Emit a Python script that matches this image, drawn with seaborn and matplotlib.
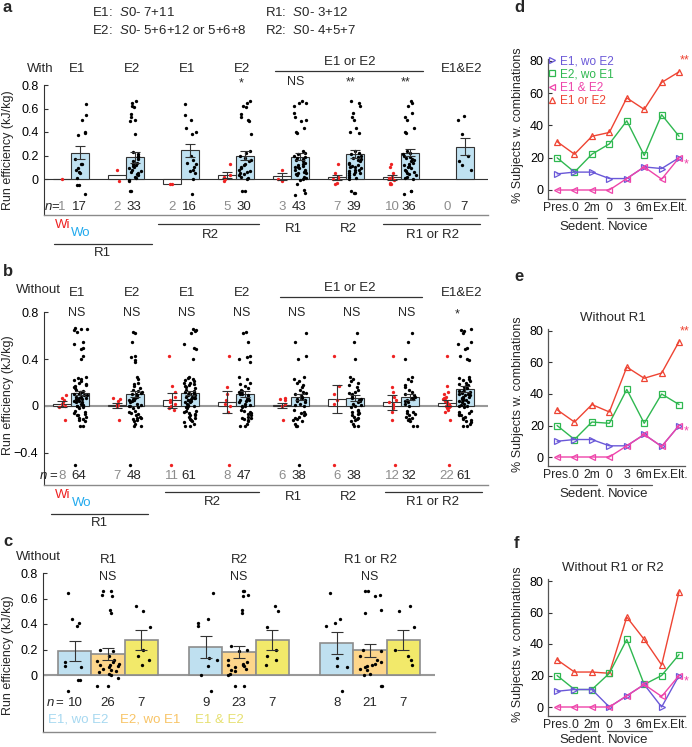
import numpy as np
import pandas as pd
import matplotlib
matplotlib.use("Agg")
import matplotlib.pyplot as plt
import seaborn as sns
from matplotlib.lines import Line2D

# ------------------------------------------------------------------ data
pair_top = ["E1", "E2", "E1", "E2", "", "", "", "E1&E2"]

# panel a ("With")
a_sig = ["", "", "", "*", "NS", "**", "**", ""]
a_wi_n = [1, 2, 2, 5, 3, 7, 10, 0]
a_wo_n = [17, 33, 16, 30, 43, 39, 36, 7]
a_wi_mean = [0.0, 0.035, -0.045, 0.035, 0.025, 0.015, 0.015, np.nan]
a_wi_sem = [0, 0, 0, 0.025, 0.03, 0.02, 0.02, 0]
a_wo_mean = [0.225, 0.185, 0.245, 0.20, 0.19, 0.21, 0.225, 0.275]
a_wo_sem = [0.055, 0.045, 0.055, 0.04, 0.03, 0.035, 0.03, 0.073]
a_wi_dots = [
    [0.0],
    [0.08, -0.015],
    [-0.045, -0.045],
    [0.13, 0.03, 0.02, 0.0, -0.015],
    [0.08, 0.0, -0.015],
    [0.13, 0.05, 0.02, 0.01, 0.0, -0.03, -0.04],
    [0.13, 0.1, 0.05, 0.02, 0.01, 0.0, -0.01, -0.03, -0.04, -0.045],
    [],
]
a_wo_dots = [
    [0.64, 0.545, 0.50, 0.40, 0.39, 0.375, 0.167, 0.13, 0.128, 0.09, 0.077, 0.062,
     0.048, 0.006, -0.05, -0.05, -0.128],
    [0.66, 0.645, 0.62, 0.61, 0.55, 0.53, 0.50, 0.49, 0.385, 0.23, 0.21, 0.2, 0.19,
     0.17, 0.15, 0.14, 0.13, 0.12, 0.11, 0.1, 0.09, 0.08, 0.07, 0.06, 0.05, 0.04,
     0.03, 0.02, 0.01, -0.01, -0.02, -0.1, -0.1],
    [0.64, 0.545, 0.50, 0.43, 0.40, 0.38, 0.2, 0.16, 0.14, 0.13, 0.1, 0.08, 0.07,
     0.05, 0.0, -0.13],
    [0.66, 0.645, 0.62, 0.61, 0.55, 0.53, 0.50, 0.49, 0.385, 0.24, 0.22, 0.2, 0.18,
     0.16, 0.15, 0.13, 0.12, 0.1, 0.09, 0.08, 0.07, 0.06, 0.05, 0.04, 0.03, 0.02,
     0.01, 0.0, -0.1, -0.1],
    [0.66, 0.65, 0.645, 0.62, 0.56, 0.53, 0.5, 0.49, 0.43, 0.40, 0.39, 0.24, 0.22,
     0.21, 0.2, 0.19, 0.18, 0.17, 0.16, 0.15, 0.14, 0.13, 0.12, 0.11, 0.1, 0.1,
     0.09, 0.08, 0.08, 0.07, 0.06, 0.05, 0.05, 0.04, 0.03, 0.02, 0.01, 0.0, -0.01,
     -0.04, -0.09, -0.12, -0.135],
    [0.66, 0.645, 0.62, 0.56, 0.53, 0.5, 0.43, 0.40, 0.39, 0.24, 0.22, 0.21, 0.2,
     0.19, 0.18, 0.17, 0.16, 0.15, 0.14, 0.13, 0.12, 0.11, 0.1, 0.1, 0.09, 0.08,
     0.08, 0.07, 0.06, 0.05, 0.05, 0.04, 0.03, 0.02, 0.01, 0.0, -0.1, -0.12, -0.12],
    [0.66, 0.645, 0.62, 0.56, 0.53, 0.5, 0.43, 0.40, 0.39, 0.24, 0.22, 0.21, 0.2,
     0.19, 0.18, 0.17, 0.16, 0.15, 0.14, 0.13, 0.12, 0.11, 0.1, 0.09, 0.08, 0.07,
     0.06, 0.05, 0.04, 0.03, 0.02, 0.01, 0.0, -0.1, -0.1, -0.13],
    [0.54, 0.5, 0.38, 0.2, 0.15, 0.12, 0.08],
]

# panel b ("Without")
b_sig = ["NS", "NS", "NS", "NS", "NS", "NS", "NS", "*"]
b_wi_n = [8, 7, 11, 8, 6, 6, 12, 22]
b_wo_n = [64, 48, 61, 47, 38, 38, 32, 61]
b_wi_mean = [0.015, 0.005, 0.05, 0.035, 0.005, 0.06, 0.03, 0.025]
b_wi_sem = [0.025, 0.02, 0.065, 0.095, 0.02, 0.12, 0.06, 0.025]
b_wo_mean = [0.11, 0.10, 0.11, 0.10, 0.075, 0.065, 0.08, 0.145]
b_wo_sem = [0.02, 0.025, 0.02, 0.025, 0.025, 0.025, 0.025, 0.025]
b_wi_dots = [
    [0.09, 0.07, 0.05, 0.03, 0.02, 0.0, -0.01, -0.12],
    [0.07, 0.06, 0.04, 0.02, 0.01, 0.0, -0.12],
    [0.43, 0.17, 0.12, 0.08, 0.05, 0.03, 0.02, 0.0, -0.02, -0.03, -0.5],
    [0.43, 0.16, 0.1, 0.05, 0.02, 0.0, -0.05, -0.5],
    [0.07, 0.06, 0.05, 0.02, 0.0, -0.12],
    [0.43, 0.17, 0.1, 0.05, 0.02, -0.5],
    [0.43, 0.16, 0.12, 0.08, 0.05, 0.03, 0.02, 0.0, -0.02, -0.05, -0.12, -0.5],
    [0.43, 0.17, 0.12, 0.1, 0.08, 0.07, 0.06, 0.06, 0.05, 0.04, 0.03, 0.02, 0.02,
     0.01, 0.0, 0.0, -0.01, -0.02, -0.03, -0.05, -0.12, -0.5],
]
b_wo_dots = [
    [0.67, 0.66, 0.655, 0.65, 0.63, 0.55, 0.53, 0.5, 0.49, 0.43, 0.40, 0.25, 0.24,
     0.23, 0.22, 0.21, 0.2, 0.19, 0.18, 0.17, 0.16, 0.15, 0.14, 0.13, 0.12, 0.12,
     0.11, 0.1, 0.1, 0.09, 0.09, 0.08, 0.08, 0.07, 0.07, 0.06, 0.06, 0.05, 0.05,
     0.04, 0.04, 0.03, 0.03, 0.02, 0.02, 0.01, 0.0, 0.0, -0.01, -0.02, -0.04,
     -0.05, -0.06, -0.07, -0.08, -0.08, -0.09, -0.1, -0.11, -0.12, -0.13, -0.17,
     -0.17, -0.5],
    [0.63, 0.62, 0.55, 0.43, 0.42, 0.39, 0.38, 0.25, 0.23, 0.2, 0.19, 0.17, 0.15,
     0.14, 0.13, 0.12, 0.11, 0.1, 0.1, 0.09, 0.08, 0.07, 0.06, 0.05, 0.05, 0.04,
     0.03, 0.02, 0.01, 0.0, 0.0, -0.01, -0.02, -0.04, -0.05, -0.06, -0.07, -0.08,
     -0.09, -0.1, -0.11, -0.12, -0.13, -0.15, -0.17, -0.17, -0.1, -0.5],
    [0.66, 0.65, 0.64, 0.62, 0.53, 0.5, 0.49, 0.40, 0.25, 0.24, 0.23, 0.22, 0.21,
     0.2, 0.2, 0.19, 0.18, 0.17, 0.16, 0.15, 0.14, 0.13, 0.12, 0.12, 0.11, 0.1, 0.1,
     0.09, 0.09, 0.08, 0.08, 0.07, 0.07, 0.06, 0.05, 0.05, 0.04, 0.03, 0.03, 0.02,
     0.01, 0.0, 0.0, -0.01, -0.02, -0.04, -0.05, -0.06, -0.07, -0.08, -0.08, -0.09,
     -0.1, -0.11, -0.12, -0.13, -0.14, -0.15, -0.17, -0.17, -0.04],
    [0.63, 0.62, 0.55, 0.43, 0.42, 0.40, 0.38, 0.25, 0.23, 0.2, 0.19, 0.17, 0.15,
     0.14, 0.13, 0.12, 0.11, 0.1, 0.1, 0.09, 0.08, 0.07, 0.06, 0.05, 0.05, 0.04,
     0.03, 0.02, 0.01, 0.0, 0.0, -0.01, -0.04, -0.05, -0.06, -0.07, -0.08, -0.09,
     -0.1, -0.11, -0.12, -0.13, -0.15, -0.17, -0.17, -0.1, -0.03],
    [0.62, 0.55, 0.43, 0.40, 0.25, 0.23, 0.21, 0.2, 0.18, 0.16, 0.14, 0.12, 0.11,
     0.1, 0.09, 0.08, 0.07, 0.06, 0.05, 0.04, 0.03, 0.02, 0.01, 0.0, -0.03, -0.05,
     -0.06, -0.07, -0.08, -0.09, -0.1, -0.11, -0.12, -0.13, -0.15, -0.17, -0.17,
     -0.5],
    [0.62, 0.55, 0.40, 0.25, 0.23, 0.21, 0.2, 0.18, 0.16, 0.14, 0.12, 0.11, 0.1,
     0.09, 0.08, 0.07, 0.06, 0.05, 0.04, 0.03, 0.02, 0.01, 0.0, -0.01, -0.03, -0.05,
     -0.06, -0.07, -0.08, -0.09, -0.1, -0.11, -0.12, -0.13, -0.15, -0.17, -0.17,
     -0.04],
    [0.62, 0.55, 0.40, 0.25, 0.23, 0.21, 0.18, 0.16, 0.14, 0.12, 0.1, 0.09, 0.08,
     0.07, 0.06, 0.05, 0.04, 0.03, 0.02, 0.0, -0.05, -0.06, -0.07, -0.08, -0.09,
     -0.1, -0.11, -0.12, -0.13, -0.17, -0.17, -0.04],
    [0.66, 0.65, 0.64, 0.62, 0.55, 0.53, 0.5, 0.49, 0.43, 0.40, 0.39, 0.25, 0.24,
     0.23, 0.22, 0.21, 0.2, 0.19, 0.18, 0.17, 0.16, 0.15, 0.14, 0.13, 0.12, 0.12,
     0.11, 0.1, 0.1, 0.09, 0.09, 0.08, 0.08, 0.07, 0.07, 0.06, 0.05, 0.05, 0.04,
     0.03, 0.03, 0.02, 0.01, 0.0, 0.0, -0.01, -0.04, -0.05, -0.06, -0.07, -0.08,
     -0.08, -0.09, -0.1, -0.11, -0.12, -0.13, -0.14, -0.15, -0.17, -0.17],
]

# panel c
c_groups = ["R1", "R2", "R1 or R2"]
c_sig = ["NS", "NS", "NS"]
c_series = ["E1, wo E2", "E2, wo E1", "E1 & E2"]
c_n = [[10, 26, 7], [9, 23, 7], [8, 21, 7]]
c_mean = [[0.19, 0.163, 0.275], [0.22, 0.178, 0.275], [0.25, 0.195, 0.275]]
c_sem = [[0.08, 0.045, 0.075], [0.083, 0.048, 0.075], [0.088, 0.052, 0.075]]
c_dots = [
    [[0.64, 0.436, 0.41, 0.385, 0.1, 0.068, 0.062, -0.036, -0.036, -0.127],
     [0.66, 0.655, 0.625, 0.62, 0.51, 0.49, 0.2, 0.19, 0.15, 0.12, 0.11, 0.1, 0.09,
      0.08, 0.075, 0.07, 0.06, 0.05, 0.04, 0.03, 0.02, 0.01, 0.0, -0.02, -0.09, -0.09],
     [0.54, 0.5, 0.38, 0.2, 0.15, 0.12, 0.08]],
    [[0.64, 0.436, 0.41, 0.385, 0.135, 0.12, 0.07, 0.0, -0.127],
     [0.66, 0.655, 0.625, 0.62, 0.51, 0.49, 0.23, 0.2, 0.19, 0.12, 0.1, 0.09, 0.08,
      0.075, 0.07, 0.06, 0.05, 0.04, 0.03, 0.01, 0.0, -0.09, -0.09],
     [0.54, 0.5, 0.38, 0.2, 0.15, 0.12, 0.08]],
    [[0.64, 0.436, 0.41, 0.385, 0.135, 0.07, 0.06, -0.127],
     [0.66, 0.655, 0.625, 0.62, 0.51, 0.49, 0.2, 0.19, 0.15, 0.12, 0.1, 0.09, 0.08,
      0.07, 0.06, 0.05, 0.04, 0.01, 0.0, -0.09, -0.09],
     [0.54, 0.5, 0.38, 0.2, 0.15, 0.12, 0.08]],
]

# panels d, e, f
time_labels = ["Pres.", "0", "2m", "0", "3", "6m", "Ex.", "Elt."]
line_names = ["E1, wo E2", "E2, wo E1", "E1 & E2", "E1 or E2"]
d_vals = [[10, 11.1, 11.1, 7.1, 7.1, 14.3, 13.3, 20],
          [20, 11.1, 22.2, 28.6, 42.9, 21.4, 46.7, 33.3],
          [0, 0, 0, 0, 7.1, 14.3, 6.7, 20],
          [30, 22.2, 33.3, 35.7, 57.1, 50, 66.7, 73.3]]
e_vals = [[10, 11.1, 11.1, 7.1, 7.1, 14.3, 6.7, 20],
          [20, 11.1, 22.2, 21.4, 42.9, 21.4, 40, 33.3],
          [0, 0, 0, 0, 7.1, 14.3, 6.7, 20],
          [30, 22.2, 33.3, 28.6, 57.1, 50, 53.3, 73.3]]
f_vals = [[10, 11.1, 11.1, 0, 7.1, 14.3, 0, 20],
          [20, 11.1, 11.1, 21.4, 42.9, 14.3, 20, 33.3],
          [0, 0, 0, 0, 7.1, 14.3, 6.7, 20],
          [30, 22.2, 22.2, 21.4, 57.1, 42.9, 26.7, 73.3]]

# ------------------------------------------------------------------ style
sns.set_theme(style="white")
plt.rcParams["font.family"] = ["Liberation Sans", "DejaVu Sans"]
plt.rcParams["mathtext.fontset"] = "custom"
plt.rcParams["mathtext.rm"] = "Liberation Sans"
plt.rcParams["mathtext.it"] = "Liberation Sans:italic"

W, H = 692, 747
fig = plt.figure(figsize=(W / 100, H / 100), dpi=100)
fig.patch.set_facecolor("white")


def fx(x):
    return x / W


def fy(y):
    return 1 - y / H


def T(x, y, s, ha="center", va="center", size=9.5, **kw):
    fig.text(fx(x), fy(y), s, ha=ha, va=va, fontsize=size, **kw)


def L(x0, x1, y, color="#333333", lw=0.9):
    fig.add_artist(Line2D([fx(x0), fx(x1)], [fy(y), fy(y)], transform=fig.transFigure,
                          color=color, lw=lw))


def AX(left, top, right, bottom):
    return fig.add_axes([fx(left), fy(bottom), (right - left) / W, (bottom - top) / H])


DARK = "#333333"
RED = "#ee2222"
WOBLUE = "#22aaee"
BARBLUE = "#bfe1f1"
X0, DX = 71, 55          # pixel position of pair boundary 0 and pair spacing
OFF, BW = 0.164, 0.327   # half-offset and width of paired bars (data units)


def style_y(ax, ticks, labels):
    ax.set_yticks(ticks)
    ax.set_yticklabels(labels)
    ax.tick_params(axis="y", direction="in", length=3, width=0.8, colors=DARK,
                   labelcolor="black", labelsize=9, pad=4, left=True)
    ax.set_xticks([])
    ax.set_xlabel("")
    ax.set_ylabel("")
    for s in ["top", "right"]:
        ax.spines[s].set_visible(False)
    ax.spines["left"].set_color(DARK)
    ax.spines["left"].set_linewidth(0.8)
    ax.spines["bottom"].set_color("#8a8a8a")
    ax.spines["bottom"].set_linewidth(1.0)
    ax.set_facecolor("none")


def pair_panel(ax, wi_mean, wi_sem, wi_dots, wo_mean, wo_sem, wo_dots, zcol, zlw):
    ax.axhline(0, color=zcol, lw=zlw, zorder=1)
    wi_idx = [i for i in range(len(wi_dots)) if len(wi_dots[i]) > 0]
    dfw = pd.DataFrame({"pos": [i - OFF for i in wi_idx], "val": [wi_mean[i] for i in wi_idx]})
    sns.barplot(data=dfw, x="pos", y="val", native_scale=True, width=BW, color="white",
                edgecolor=DARK, linewidth=0.8, errorbar=None, saturation=1, ax=ax, zorder=2)
    dfo = pd.DataFrame({"pos": [i + OFF for i in range(len(wo_mean))], "val": wo_mean})
    sns.barplot(data=dfo, x="pos", y="val", native_scale=True, width=BW, color=BARBLUE,
                edgecolor=DARK, linewidth=0.8, errorbar=None, saturation=1, ax=ax, zorder=2)
    rows = [(i - OFF, v) for i in wi_idx for v in wi_dots[i]]
    sns.stripplot(data=pd.DataFrame(rows, columns=["pos", "val"]), x="pos", y="val",
                  native_scale=True, jitter=0.07, color=RED, size=2.4, linewidth=0,
                  ax=ax, zorder=3, orient="x")
    rows = [(i + OFF, v) for i in range(len(wo_dots)) for v in wo_dots[i]]
    sns.stripplot(data=pd.DataFrame(rows, columns=["pos", "val"]), x="pos", y="val",
                  native_scale=True, jitter=0.12, color="black", size=2.4, linewidth=0,
                  ax=ax, zorder=3, orient="x")
    ex = [i - OFF for i in wi_idx if wi_sem[i] > 0]
    ax.errorbar(ex, [wi_mean[i] for i in wi_idx if wi_sem[i] > 0],
                yerr=[wi_sem[i] for i in wi_idx if wi_sem[i] > 0], fmt="none",
                ecolor=DARK, elinewidth=0.8, capsize=3.5, capthick=0.8, zorder=4)
    ax.errorbar([i + OFF for i in range(len(wo_mean))], wo_mean, yerr=wo_sem, fmt="none",
                ecolor=DARK, elinewidth=0.8, capsize=3.5, capthick=0.8, zorder=4)
    ax.set_xlim((44 - X0) / DX, (488 - X0) / DX)


np.random.seed(3)

# ------------------------------------------------------------------ panel a
T(3, 8, "a", ha="left", size=12, fontweight="bold")
T(92, 13, r"E1:  $\mathit{S0}$- 7+11", ha="left")
T(92, 31, r"E2:  $\mathit{S0}$- 5+6+12 or 5+6+8", ha="left")
T(265, 13, r"R1:  $\mathit{S0}$- 3+12", ha="left")
T(265, 31, r"R2:  $\mathit{S0}$- 4+5+7", ha="left")

axa = AX(44, 85, 488, 215)
pair_panel(axa, a_wi_mean, a_wi_sem, a_wi_dots, a_wo_mean, a_wo_sem, a_wo_dots, DARK, 0.8)
axa.set_ylim(-(215 - 179) / 117.5, 0.8)
style_y(axa, [0, 0.2, 0.4, 0.6, 0.8], ["0", "0.2", "0.4", "0.6", "0.8"])

T(40, 69, "With")
for i, lab in enumerate(pair_top):
    if lab:
        T(X0 + DX * i + 6, 69, lab)
T(350, 62, "E1 or E2")
L(275, 423, 71)
for i, s in enumerate(a_sig):
    if s:
        T(X0 + DX * i + 5, 82 if s != "*" else 83, s, size=9)
T(48, 207, r"$\mathit{n}$", size=9.5)
T(55, 207, "=", size=9.5)
for i in range(8):
    T(X0 + DX * i - 9, 207, str(a_wi_n[i]), color="#8c8c8c")
    T(X0 + DX * i + 8, 207, str(a_wo_n[i]))
T(63, 225, "Wi", color=RED)
T(81, 233, "Wo", color=WOBLUE)
L(158, 259, 224)
T(210, 235, "R2")
T(293, 229, "R1")
T(348, 229, "R2")
L(383, 480, 224)
T(432, 235, "R1 or R2")
L(54, 152, 244)
T(102, 253, "R1")
T(8, 150, "Run efficiency (kJ/kg)", rotation=90, size=9)

# ------------------------------------------------------------------ panel b
T(3, 272, "b", ha="left", size=12, fontweight="bold")
axb = AX(44, 406 - 0.8 * 117, 488, 485)
pair_panel(axb, b_wi_mean, b_wi_sem, b_wi_dots, b_wo_mean, b_wo_sem, b_wo_dots, "#999999", 1.5)
axb.set_ylim(-(485 - 406) / 117, 0.8)
style_y(axb, [-0.4, 0, 0.4, 0.8], ["\u22120.4", "0", "0.4", "0.8"])

T(38, 290, "Without")
for i, lab in enumerate(pair_top):
    if lab:
        T(X0 + DX * i + 6, 293, lab)
T(350, 288, "E1 or E2")
L(280, 422, 297)
for i, s in enumerate(b_sig):
    T(X0 + DX * i + (6 if s == "NS" else 1), 313 if s == "NS" else 314, s, size=9)
T(43, 476, r"$\mathit{n}$", size=9.5)
T(53, 476, "=", size=9.5)
for i in range(8):
    T(X0 + DX * i - 9, 476, str(b_wi_n[i]), color="#8c8c8c")
    T(X0 + DX * i + 8, 476, str(b_wo_n[i]))
T(63, 495, "Wi", color=RED)
T(82, 503, "Wo", color=WOBLUE)
L(165, 259, 492)
T(212, 502, "R2")
T(293, 497, "R1")
T(348, 497, "R2")
L(385, 482, 492)
T(433, 502, "R1 or R2")
L(51, 148, 514)
T(99, 523, "R1")
T(8, 395, "Run efficiency (kJ/kg)", rotation=90, size=9)

# ------------------------------------------------------------------ panel c
T(3, 542, "c", ha="left", size=12, fontweight="bold")
CX0, CDX = 108, 131
COFF, CBW = 0.252, 0.252
c_face = ["#bfe0f0", "#fdd68b", "#f2e96a"]
c_text = ["#a6d8f0", "#f8c466", "#e6e070"]
axc = AX(43, 573, 435, 732)
axc.axhline(0, color="#999999", lw=1.5, zorder=1)
for k in range(3):
    dfk = pd.DataFrame({"pos": [g + (k - 1) * COFF for g in range(3)],
                        "val": [c_mean[g][k] for g in range(3)]})
    sns.barplot(data=dfk, x="pos", y="val", native_scale=True, width=CBW, color=c_face[k],
                edgecolor="#8c8c8c", linewidth=1.2, errorbar=None, saturation=1, ax=axc,
                zorder=2)
for k in range(3):
    rows = [(g + (k - 1) * COFF, v) for g in range(3) for v in c_dots[g][k]]
    sns.stripplot(data=pd.DataFrame(rows, columns=["pos", "val"]), x="pos", y="val",
                  native_scale=True, jitter=0.09, color="black", size=2.4, linewidth=0,
                  ax=axc, zorder=3, orient="x")
for k in range(3):
    axc.errorbar([g + (k - 1) * COFF for g in range(3)], [c_mean[g][k] for g in range(3)],
                 yerr=[c_sem[g][k] for g in range(3)], fmt="none", ecolor=DARK,
                 elinewidth=0.8, capsize=4, capthick=0.8, zorder=4)
axc.set_xlim((43 - CX0) / CDX, (435 - CX0) / CDX)
axc.set_ylim(-(732 - 675) / 127.5, 0.8)
style_y(axc, [0, 0.2, 0.4, 0.6, 0.8], ["0", "0.2", "0.4", "0.6", "0.8"])

T(38, 557, "Without")
for g in range(3):
    T(CX0 + CDX * g, 560, c_groups[g])
    T(CX0 + CDX * g, 577, c_sig[g], size=9)
T(50, 703, r"$\mathit{n}$", size=9.5)
T(59, 703, "=", size=9.5)
for g in range(3):
    for k in range(3):
        T(CX0 + CDX * g + (k - 1) * 33, 703, str(c_n[g][k]))
for k, xl in enumerate([48, 120, 195]):
    T(xl, 720, c_series[k], ha="left", color=c_text[k])
T(8, 655, "Run efficiency (kJ/kg)", rotation=90, size=9)

# ------------------------------------------------------------------ panels d, e, f
line_cols = ["#6a58d8", "#2fb850", "#ee44aa", "#ee4433"]
line_mk = [">", "s", "<", "^"]
draw_order = [3, 1, 0, 2]


def line_panel(zero, scale, vals, sub_y):
    bottom = zero + 9
    ax = AX(548, zero - 81 * scale, 685, bottom)
    for k in draw_order:
        sns.lineplot(x=np.arange(8), y=vals[k], color=line_cols[k], marker=line_mk[k],
                     markersize=5, markerfacecolor="none", markeredgecolor=line_cols[k],
                     markeredgewidth=0.9, linewidth=1.0, ax=ax)
    ax.set_xlim(-0.52, 7.34)
    ax.set_ylim(-9 / scale, 81)
    ax.set_xticks(range(8))
    ax.set_xticklabels(time_labels)
    ax.set_yticks([0, 20, 40, 60, 80])
    ax.tick_params(axis="y", direction="in", length=3, width=0.8, colors=DARK,
                   labelcolor="black", labelsize=9, pad=3, left=True)
    ax.tick_params(axis="x", length=0, labelsize=8.7, pad=2.5)
    for s in ["top", "right"]:
        ax.spines[s].set_visible(False)
    for s in ["left", "bottom"]:
        ax.spines[s].set_color("#555555")
        ax.spines[s].set_linewidth(0.9)
    ax.set_facecolor("none")
    ax.set_xlabel("")
    ax.set_ylabel("")
    L(570, 597, sub_y - 9, color="#555555")
    L(607, 652, sub_y - 9, color="#555555")
    T(582, sub_y, "Sedent.", size=9.5)
    T(628, sub_y, "Novice", size=9.5)
    T(518, zero - 40 * scale, "% Subjects w. combinations", rotation=90, size=9)
    return ax


T(514, 8, "d", ha="left", size=12, fontweight="bold")
axd = line_panel(190, 1.6125, d_vals, 227)
handles = [Line2D([], [], marker=line_mk[k], color=line_cols[k], markerfacecolor="none",
                  linestyle="none", markersize=5, markeredgewidth=0.9) for k in range(4)]
axd.legend(handles, line_names, loc="upper left", bbox_to_anchor=(fx(548), fy(55)),
           bbox_transform=fig.transFigure, frameon=False, fontsize=8.5, handlelength=0.7,
           handletextpad=0.35, labelspacing=0.12, borderpad=0, borderaxespad=0,
           labelcolor=line_cols)
T(685, 60, "**", color=line_cols[3], size=9)
T(686, 164, "*", color=line_cols[2], size=9)

T(514, 277, "e", ha="left", size=12, fontweight="bold")
axe = line_panel(457, 1.575, e_vals, 494)
T(613, 318, "Without R1")
T(685, 331, "**", color=line_cols[3], size=9)
T(686, 431, "*", color=line_cols[2], size=9)

T(514, 543, "f", ha="left", size=12, fontweight="bold")
axf = line_panel(707, 1.575, f_vals, 740)
T(613, 568, "Without R1 or R2")
T(686, 681, "*", color=line_cols[2], size=9)

fig.savefig("out.png", dpi=100, facecolor="white")
